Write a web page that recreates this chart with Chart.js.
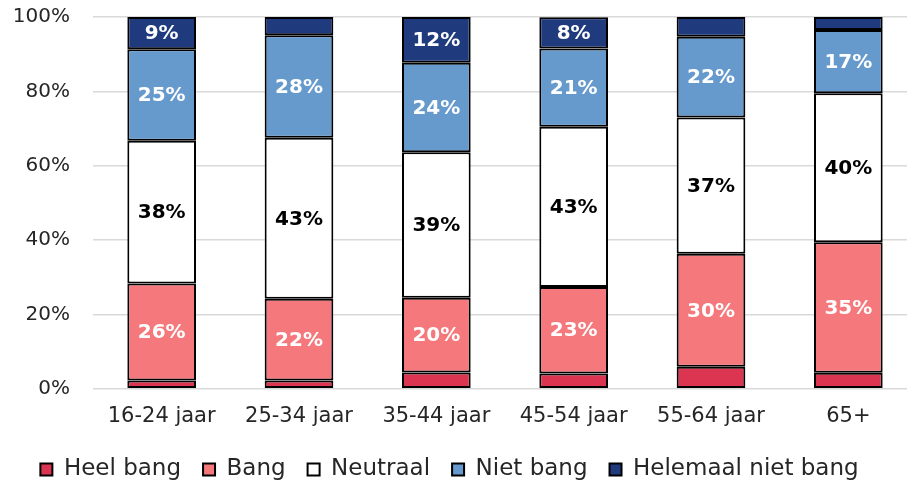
<!DOCTYPE html>
<html>
<head>
<meta charset="utf-8">
<script src="https://cdn.jsdelivr.net/npm/chart.js@4.4.1/dist/chart.umd.min.js"></script>
<style>
  html, body { margin: 0; padding: 0; background: #fff; overflow: hidden; }
  #wrap { width: 917px; height: 483px; position: relative; }
</style>
</head>
<body>
<div id="wrap"><canvas id="chart"></canvas></div>
<script>
// Leeftijdsgroepen en aandelen per antwoord (in %)
const categories = ['16-24 jaar', '25-34 jaar', '35-44 jaar', '45-54 jaar', '55-64 jaar', '65+'];
const heelBang = [2.2, 2.2, 4.4, 4.1, 5.9, 4.3];
const bang = [26.1, 22.0, 20.1, 23.3, 30.4, 35.1];
const neutraal = [38.4, 43.3, 39.1, 43.1, 36.7, 40.1];
const nietBang = [24.6, 27.6, 24.1, 21.0, 21.7, 17.0];
const helemaalNietBang = [8.7, 4.9, 12.3, 8.4, 5.3, 3.5];
const yTicks = [0, 20, 40, 60, 80, 100];

const FONT = 'DejaVu Sans';

// labels in de balken tekenen (geen datalabels plugin beschikbaar)
const barLabels = {
  id: 'barLabels',
  afterDatasetsDraw(chart) {
    const ctx = chart.ctx;
    ctx.save();
    ctx.font = 'bold 20px ' + FONT;
    ctx.textAlign = 'center';
    ctx.textBaseline = 'middle';
    chart.data.datasets.forEach((ds, i) => {
      const meta = chart.getDatasetMeta(i);
      meta.data.forEach((bar, j) => {
        const v = ds.data[j];
        if (v < 8) return;
        ctx.fillStyle = ds.labelColor;
        ctx.fillText(Math.round(v) + '%', bar.x, (bar.y + bar.base) / 2 + 1);
      });
    });
    ctx.restore();
  }
};

// canvas is iets breder dan het venster; legenda terugschuiven naar het midden
const legendShift = {
  id: 'legendShift',
  afterLayout(chart) {
    if (!chart.legend) return;
    chart.legend.left -= 9;
    chart.legend.right -= 9;
  }
};

function makeSet(label, data, color, labelColor) {
  return {
    label: label,
    data: data,
    backgroundColor: color,
    borderColor: '#000',
    borderWidth: 2,
    borderSkipped: false,
    labelColor: labelColor,
    barPercentage: 0.5,
    categoryPercentage: 1.0
  };
}

document.addEventListener('DOMContentLoaded', function() {
  const ctx = document.getElementById('chart').getContext('2d');
  new Chart(ctx, {
    type: 'bar',
    data: {
      labels: categories,
      datasets: [
        makeSet('Heel bang', heelBang, '#DC3552', '#fff'),
        makeSet('Bang', bang, '#F4787C', '#fff'),
        makeSet('Neutraal', neutraal, '#FFFFFF', '#000'),
        makeSet('Niet bang', nietBang, '#6699CC', '#fff'),
        makeSet('Helemaal niet bang', helemaalNietBang, '#1F3A7D', '#fff')
      ]
    },
    options: {
      responsive: true,
      maintainAspectRatio: false,
      animation: false,
      layout: { padding: { top: 17, right: 0, bottom: -8, left: 0 } },
      plugins: {
        tooltip: { enabled: false },
        legend: {
          position: 'bottom',
          align: 'center',
          labels: {
            font: { family: FONT, size: 23 },
            color: '#262626',
            boxWidth: 12,
            boxHeight: 12,
            padding: 22
          }
        }
      },
      scales: {
        x: {
          stacked: true,
          grid: { display: false },
          border: { display: false },
          ticks: { font: { family: FONT, size: 21 }, color: '#262626', padding: 7 }
        },
        y: {
          stacked: true,
          min: 0,
          max: 100,
          afterFit: function(scale) {
            scale.width = 93;
            scale.paddingTop = 0;
            scale.paddingBottom = 0;
          },
          afterBuildTicks: function(scale) {
            scale.ticks = yTicks.map(v => ({ value: v }));
          },
          grid: { color: '#D9D9D9', lineWidth: 1.5, drawTicks: false },
          border: { display: false },
          ticks: {
            font: { family: FONT, size: 20 },
            color: '#262626',
            padding: 23,
            callback: v => v + '%'
          }
        }
      }
    },
    plugins: [barLabels, legendShift]
  });
});
</script>
</body>
</html>
